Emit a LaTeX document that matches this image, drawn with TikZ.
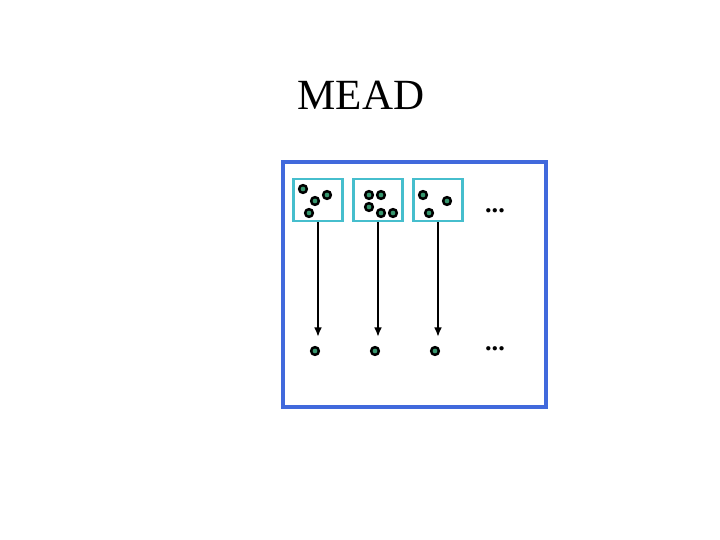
\documentclass[tikz,border=0pt]{standalone}
\usepackage{fontspec}
\setmainfont{Liberation Serif}
\usetikzlibrary{arrows.meta}
\definecolor{frameblue}{RGB}{65,105,220}
\definecolor{boxcyan}{RGB}{70,190,205}
\definecolor{dotgreen}{RGB}{55,150,110}

\begin{document}
\begin{tikzpicture}[x=0.02cm,y=-0.02cm,
    pt/.style={circle,draw=black,fill=dotgreen,line width=1.4pt,minimum size=4.4pt,inner sep=0pt},
    setbox/.style={draw=boxcyan,line width=1.4pt,minimum width=28pt,minimum height=24pt,inner sep=0pt},
    more/.style={font=\bfseries\fontsize{15}{18}\selectfont,inner sep=0pt},
    map/.style={-{Latex[length=5.5pt,width=4.5pt]},line width=1.4pt}]
  \useasboundingbox (0,0) rectangle (720,540);

  % Title
  \node[font=\fontsize{24.5}{29}\selectfont] (title) at (361,95) {MEAD};

  % Frame
  \draw[frameblue,line width=2pt] (283,162) rectangle (546,407);

  % Sets
  \node[setbox] (s1) at (318,200) {};
  \node[setbox] (s2) at (378,200) {};
  \node[setbox] (s3) at (438,200) {};
  \node[more] (m1) at (495,211) {...};

  % Points in sets
  \node[pt] (a1) at (303,189) {};
  \node[pt] (a2) at (327,195) {};
  \node[pt] (a3) at (315,201) {};
  \node[pt] (a4) at (309,213) {};
  \node[pt] (b1) at (369,195) {};
  \node[pt] (b2) at (381,195) {};
  \node[pt] (b3) at (369,207) {};
  \node[pt] (b4) at (381,213) {};
  \node[pt] (b5) at (393,213) {};
  \node[pt] (c1) at (423,195) {};
  \node[pt] (c2) at (447,201) {};
  \node[pt] (c3) at (429,213) {};

  % Images
  \node[pt] (p1) at (315,351) {};
  \node[pt] (p2) at (375,351) {};
  \node[pt] (p3) at (435,351) {};
  \node[more] (m2) at (495,349) {...};

  % Edges
  \coordinate (t1) at (318,337);
  \coordinate (t2) at (378,337);
  \coordinate (t3) at (438,337);
  \draw[map] (s1.south) -- (t1);
  \draw[map] (s2.south) -- (t2);
  \draw[map] (s3.south) -- (t3);
\end{tikzpicture}
\end{document}
